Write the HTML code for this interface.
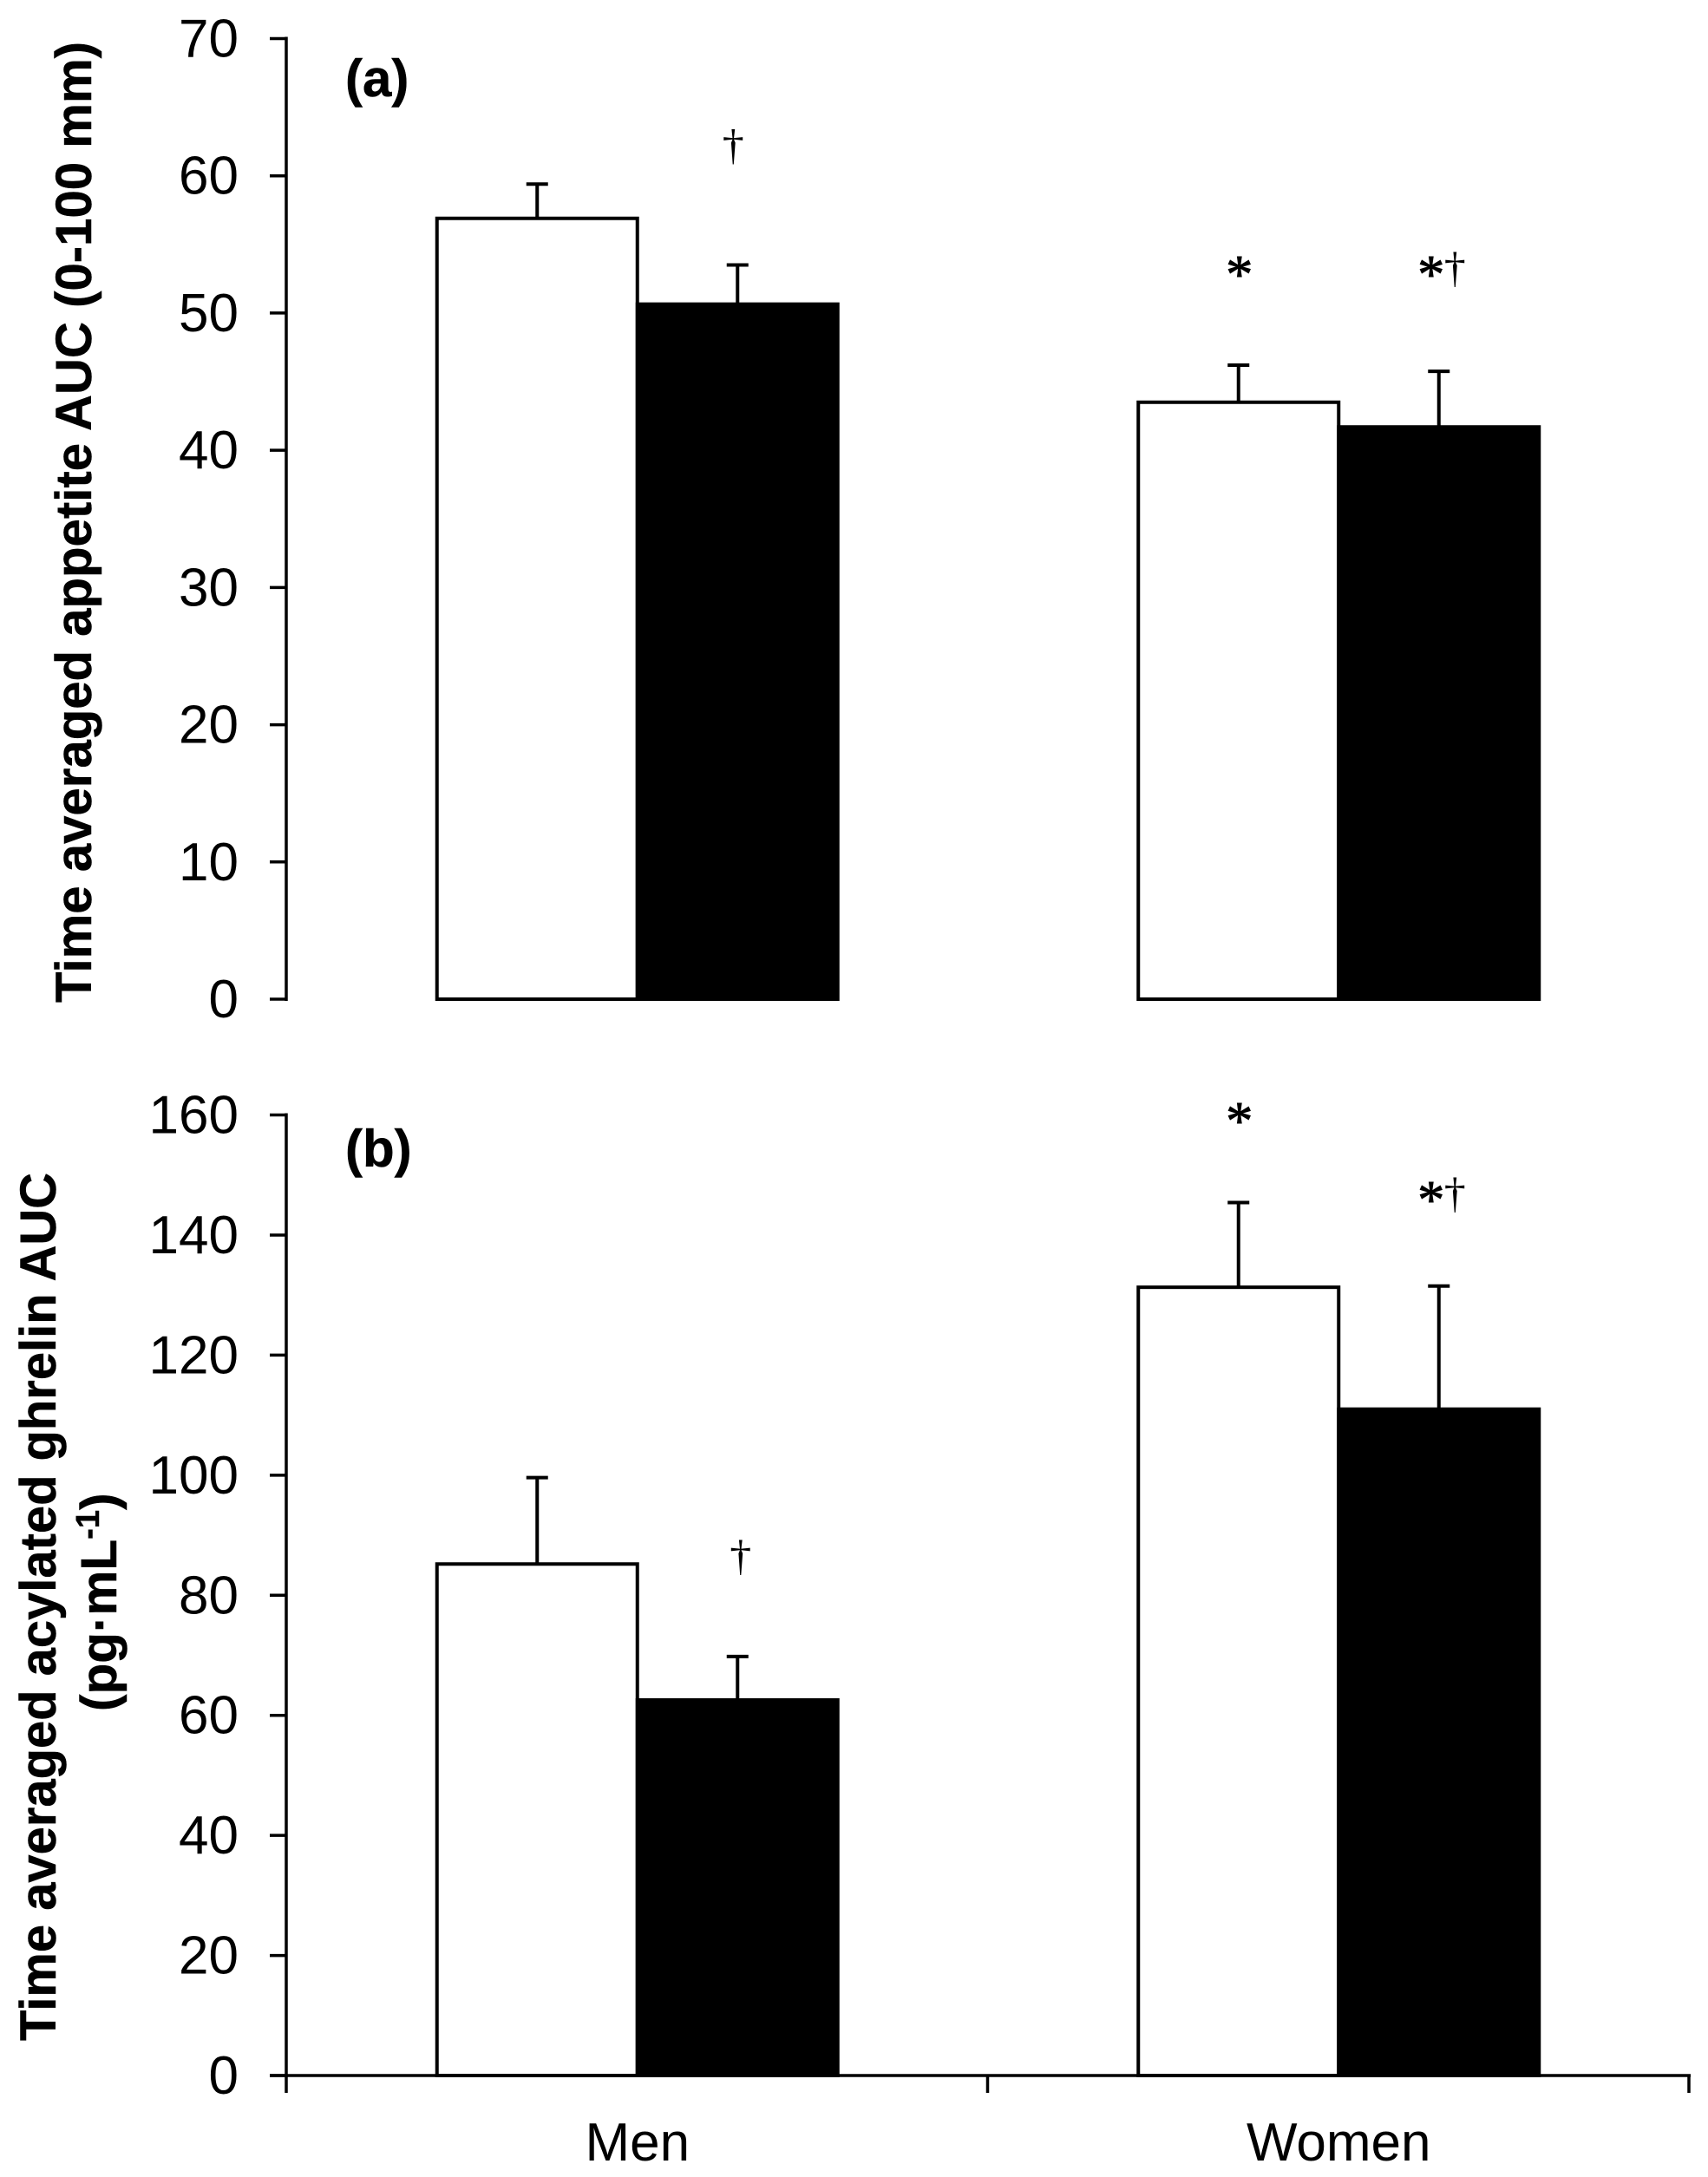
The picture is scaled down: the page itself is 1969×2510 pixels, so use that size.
<!DOCTYPE html>
<html lang="en">
<head>
<meta charset="utf-8">
<title>Time averaged appetite and acylated ghrelin AUC</title>
<style>
  html, body { margin: 0; padding: 0; background: #fff; }
  svg { display: block; }
  text { fill: #000; font-family: "Liberation Sans", Arial, sans-serif; }
  .tick-label, .cat-label { font-size: 62px; }
  .tick-label { text-anchor: end; }
  .cat-label { text-anchor: middle; }
  .panel-tag { font-size: 60px; font-weight: bold; stroke: #000; stroke-width: 0.5px; }
  .y-title { font-size: 58.5px; font-weight: bold; stroke: #000; stroke-width: 0.5px; }
  .star { font-family: "Liberation Serif", serif; font-size: 62px; text-anchor: middle; stroke: #000; stroke-width: 1px; }
  .dagger { font-family: "Liberation Serif", serif; font-size: 50px; text-anchor: middle; }
</style>
</head>
<body>
<svg id="figure" xmlns="http://www.w3.org/2000/svg" width="1969" height="2510" viewBox="0 0 1969 2510">
  <rect x="0" y="0" width="1969" height="2510" fill="#fff"/>
  <text class="y-title" transform="translate(105 1156) rotate(-90)" textLength="1108" lengthAdjust="spacingAndGlyphs">Time averaged appetite AUC (0-100 mm)</text>
  <text class="y-title" transform="translate(64 2353) rotate(-90)" textLength="1001" lengthAdjust="spacingAndGlyphs">Time averaged acylated ghrelin AUC</text>
  <text class="y-title" transform="translate(134 1973) rotate(-90)">(pg·mL<tspan font-size="38" dy="-20">-1</tspan><tspan dy="20">)</tspan></text>
  <text class="panel-tag" x="398" y="111">(a)</text>
  <text class="panel-tag" x="398" y="1345">(b)</text>
  <g id="chart-a"></g>
  <g id="chart-b"></g>
</svg>
<script>
const categories = ['Men', 'Women'];

const appetiteTicks = [0, 10, 20, 30, 40, 50, 60, 70];
const appetiteWhite = [56.9, 43.5];
const appetiteBlack = [50.65, 41.7];
const appetiteWhiteErr = [2.5, 2.7];
const appetiteBlackErr = [2.85, 4.05];
const appetiteMarks = ['', '†', '*', '*†'];
const appetiteMarkLevels = [0, 61.2, 51.5, 51.5];

const ghrelinTicks = [0, 20, 40, 60, 80, 100, 120, 140, 160];
const ghrelinWhite = [85.2, 131.3];
const ghrelinBlack = [62.55, 111.0];
const ghrelinWhiteErr = [14.4, 14.1];
const ghrelinBlackErr = [7.25, 20.5];
const ghrelinMarks = ['', '†', '*', '*†'];
const ghrelinMarkLevels = [0, 84.2, 156, 142.9];

const SVG_NS = 'http://www.w3.org/2000/svg';
const AXIS_LEFT = 330;
const AXIS_RIGHT = 1947;
const BAR_WIDTH = 231;

function make(parent, tag, attrs, content) {
  const node = document.createElementNS(SVG_NS, tag);
  for (const key in attrs) node.setAttribute(key, attrs[key]);
  if (content !== undefined) node.textContent = content;
  parent.appendChild(node);
  return node;
}

function categoryCenter(i) {
  return AXIS_LEFT + (AXIS_RIGHT - AXIS_LEFT) * (i + 0.5) / categories.length + 0.5;
}

function drawBar(parent, x, yTop, yBase, filled) {
  const bar = make(parent, 'rect', {
    x: x, y: yTop, width: BAR_WIDTH, height: yBase - yTop,
    fill: filled ? '#000' : '#fff', stroke: '#000', 'stroke-width': 4
  });
  
  
}

function drawError(parent, cx, yBar, yCap) {
  const stem = make(parent, 'line', { x1: cx, x2: cx, y1: yBar, y2: yCap, stroke: '#000', 'stroke-width': 4 });
  
  
  const cap = make(parent, 'line', { x1: cx - 12.5, x2: cx + 12.5, y1: yCap, y2: yCap, stroke: '#000', 'stroke-width': 4 });
  
  
}

function drawPanel(cfg) {
  const root = document.getElementById(cfg.id);
  const maxTick = cfg.ticks[cfg.ticks.length - 1];
  const yScale = function (v) { return cfg.y0 - (cfg.y0 - cfg.yTop) * v / maxTick; };

  categories.forEach(function (name, i) {
    const c = categoryCenter(i);
    const yBase = yScale(0);
    drawBar(root, c - BAR_WIDTH, yScale(cfg.white[i]), yBase, false);
    drawBar(root, c, yScale(cfg.black[i]), yBase, true);
    drawError(root, c - BAR_WIDTH / 2, yScale(cfg.white[i]), yScale(cfg.white[i] + cfg.whiteErr[i]));
    drawError(root, c + BAR_WIDTH / 2, yScale(cfg.black[i]), yScale(cfg.black[i] + cfg.blackErr[i]));
  });

  const yAxis = make(root, 'line', { x1: AXIS_LEFT, x2: AXIS_LEFT, y1: yScale(maxTick) - 2, y2: yScale(0) + 2, stroke: '#000', 'stroke-width': 3.5 });
  
  

  cfg.ticks.forEach(function (t) {
    const y = yScale(t);
    const tick = make(root, 'line', { x1: 311, x2: AXIS_LEFT, y1: y, y2: y, stroke: '#000', 'stroke-width': 3.5 });
    
    
    const label = make(root, 'text', { x: 275, y: y + 21, class: 'tick-label' }, String(t));
    
    
  });

  cfg.marks.forEach(function (mark, k) {
    if (!mark) return;
    const cat = Math.floor(k / 2);
    const cx = categoryCenter(cat) + (k % 2 === 0 ? -BAR_WIDTH / 2 : BAR_WIDTH / 2);
    const yBase = yScale(cfg.levels[k]);
    if (mark === '*') {
      const star = make(root, 'text', { x: cx + 1, y: yBase, class: 'star' }, '*');
      
      
    } else if (mark === '†') {
      const dagger = make(root, 'text', { x: cx + cfg.daggerNudge, y: yBase, class: 'dagger' }, '†');
      
      
    } else {
      const star2 = make(root, 'text', { x: cx - 9, y: yBase, class: 'star' }, '*');
      
      
      const dagger2 = make(root, 'text', { x: cx + 18.5, y: yBase - 12, class: 'dagger' }, '†');
      
      
    }
  });

  if (cfg.showXAxis) {
    const xAxis = make(root, 'line', { x1: 311, x2: AXIS_RIGHT + 2, y1: yScale(0), y2: yScale(0), stroke: '#000', 'stroke-width': 3.5 });
    
    
    for (let i = 0; i <= categories.length; i++) {
      const tx = AXIS_LEFT + (AXIS_RIGHT - AXIS_LEFT) * i / categories.length;
      const xTick = make(root, 'line', { x1: tx, x2: tx, y1: yScale(0), y2: yScale(0) + 20, stroke: '#000', 'stroke-width': 3.5 });
      
      
    }
    categories.forEach(function (name, i) {
      const cat = make(root, 'text', { x: categoryCenter(i), y: yScale(0) + 98, class: 'cat-label' }, name);
      
      
    });
  }
}

drawPanel({
  id: 'chart-a', y0: 1152, yTop: 44.5, ticks: appetiteTicks,
  white: appetiteWhite, black: appetiteBlack,
  whiteErr: appetiteWhiteErr, blackErr: appetiteBlackErr,
  marks: appetiteMarks, levels: appetiteMarkLevels,
  daggerNudge: -5, showXAxis: false
});
drawPanel({
  id: 'chart-b', y0: 2393, yTop: 1285.5, ticks: ghrelinTicks,
  white: ghrelinWhite, black: ghrelinBlack,
  whiteErr: ghrelinWhiteErr, blackErr: ghrelinBlackErr,
  marks: ghrelinMarks, levels: ghrelinMarkLevels,
  daggerNudge: 3.5, showXAxis: true
});
</script>
</body>
</html>
